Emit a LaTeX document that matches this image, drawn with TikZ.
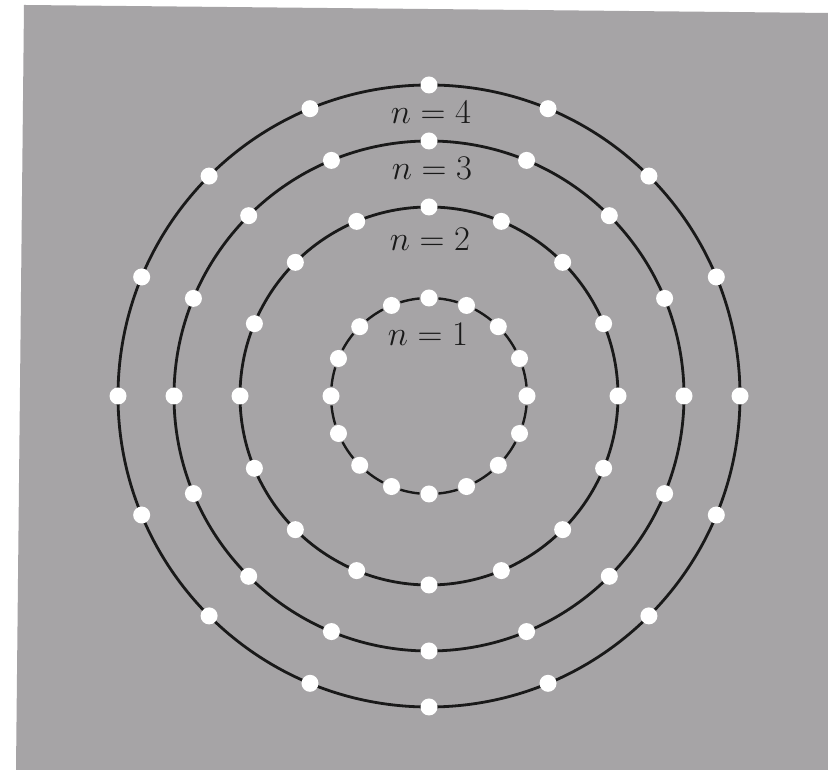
\documentclass[tikz,border=0pt]{standalone}
\usetikzlibrary{calc}
\definecolor{bg}{RGB}{166,164,166}
\begin{document}
\begin{tikzpicture}[x=0.5pt,y=0.5pt,
  orbit/.style={line width=1.4pt, black!90},
  orbitdash/.style={line width=1.2pt, black!90},
  wdot/.style={circle, fill=white, inner sep=0pt, minimum size=8.5pt},
  lbl/.style={font=\fontsize{17}{20}\selectfont, text=black!90}]
\useasboundingbox (0,0) rectangle (828,779);
\fill[white] (0,0) rectangle (828,779);
\fill[bg] (24,774) -- (828,766) -- (828,9) -- (16,9) -- cycle;
\coordinate (O) at (429,383);
\foreach \r in {189,255,311} \draw[orbit] (O) circle[radius=\r];
\foreach \k in {0,...,15}
  \draw[orbitdash] ($(O)+({90+22.5*\k+5.5}:98)$) arc[start angle={90+22.5*\k+5.5}, end angle={90+22.5*\k+17}, radius=98];
\foreach \n/\r in {1/98,2/189,3/255,4/311}
  \foreach \k in {0,...,15}
    \node[wdot] (d\n-\k) at ($(O)+({90+22.5*\k}:\r)$) {};
\node[lbl] (l4) at (431,667) {$n=4$};
\node[lbl] (l3) at (432,611) {$n=3$};
\node[lbl] (l2) at (430,540) {$n=2$};
\node[lbl] (l1) at (428,445) {$n=1$};
\end{tikzpicture}
\end{document}
